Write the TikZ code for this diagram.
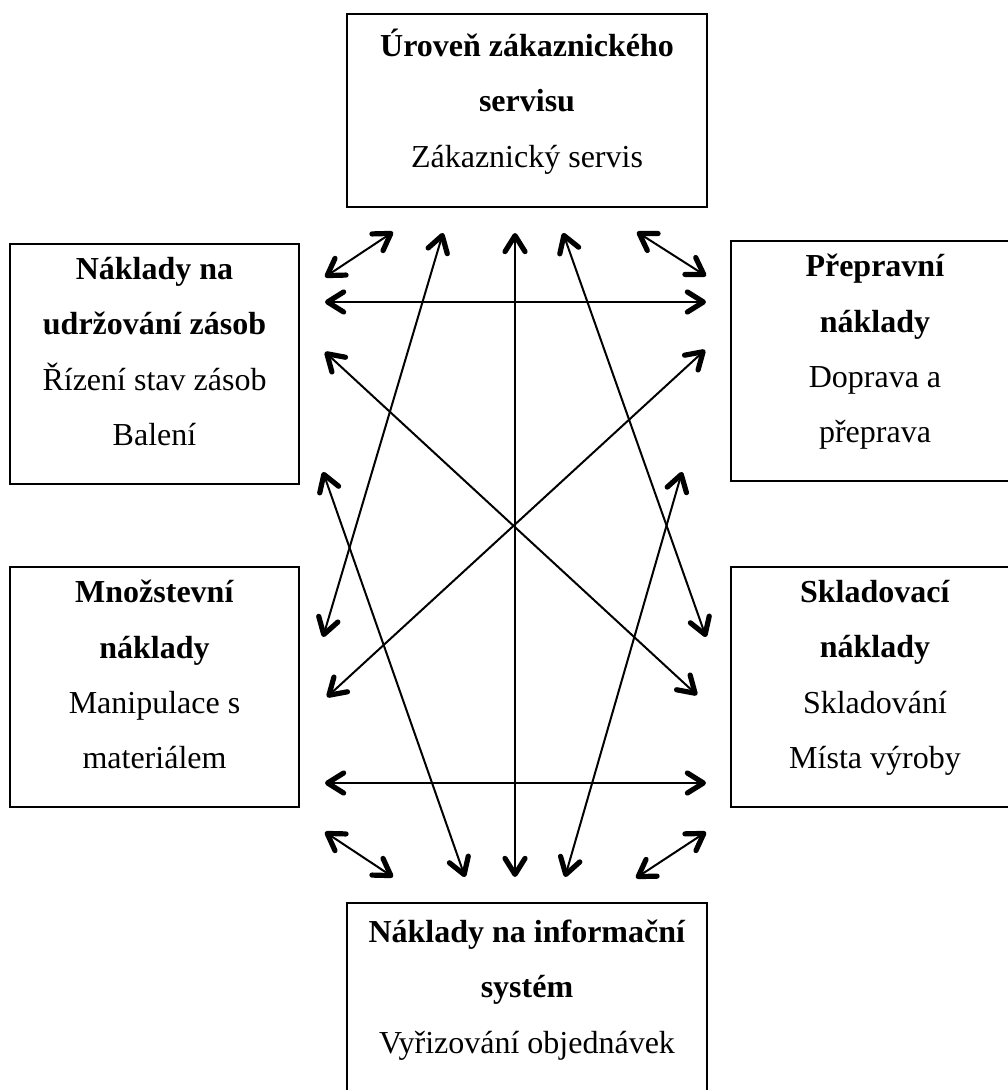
\documentclass[tikz,border=0pt]{standalone}
\usepackage{fontspec}
\setmainfont{Liberation Serif}
\usetikzlibrary{arrows.meta}

\begin{document}
\begin{tikzpicture}[x=0.5pt,y=-0.5pt,
        >={Straight Barb[length=8pt,width=10pt,line width=2.6pt,round]},
        box/.style={draw,line width=1pt,align=center,inner sep=0pt,
            font=\fontsize{16}{27.7}\selectfont,
            execute at begin node={\rule{0pt}{17.5pt}},
            execute at end node={\rule[-12.5pt]{0pt}{12.5pt}}},
        sipka/.style={<->,line width=1pt}]
        \useasboundingbox (0,0) rectangle (1007,1090);

        % rámečky s náklady
        \node[box,minimum width=180pt,minimum height=96.5pt] (servis) at (527,110.5)
            {\textbf{Úroveň zákaznického}\\\textbf{servisu}\\Zákaznický servis};
        \node[box,minimum width=144.5pt,minimum height=120pt] (zasoby) at (154.5,364)
            {\textbf{Náklady na}\\\textbf{udržování zásob}\\Řízení stav zásob\\Balení};
        \node[box,minimum width=144.5pt,minimum height=120pt] (preprava) at (875,361)
            {\textbf{Přepravní}\\\textbf{náklady}\\Doprava a\\přeprava};
        \node[box,minimum width=144.5pt,minimum height=120pt] (mnozstvi) at (154.5,687)
            {\textbf{Množstevní}\\\textbf{náklady}\\Manipulace s\\materiálem};
        \node[box,minimum width=144.5pt,minimum height=120pt] (sklad) at (875,687)
            {\textbf{Skladovací}\\\textbf{náklady}\\Skladování\\Místa výroby};
        \node[box,minimum width=180pt,minimum height=96pt] (info) at (527,999)
            {\textbf{Náklady na informační}\\\textbf{systém}\\Vyřizování objednávek};

        % konce šipek
        \coordinate (a1) at (325,277); \coordinate (b1) at (393,232);
        \coordinate (a2) at (325,302); \coordinate (b2) at (706,302);
        \coordinate (a3) at (443,233); \coordinate (b3) at (323,637);
        \coordinate (a4) at (515,233); \coordinate (b4) at (515,877);
        \coordinate (a5) at (563,233); \coordinate (b5) at (706,637);
        \coordinate (a6) at (637,232); \coordinate (b6) at (706,276);
        \coordinate (a7) at (325,352); \coordinate (b7) at (697,695);
        \coordinate (a8) at (705,350); \coordinate (b8) at (327,697);
        \coordinate (a9) at (323,472); \coordinate (b9) at (465,877);
        \coordinate (a10) at (682,472); \coordinate (b10) at (565,877);
        \coordinate (a11) at (325,783); \coordinate (b11) at (706,783);
        \coordinate (a12) at (325,832); \coordinate (b12) at (393,877);
        \coordinate (a13) at (636,878); \coordinate (b13) at (706,832);

        % obousměrné vazby
        \foreach \i in {1,...,13}
            \draw[sipka] (a\i) -- (b\i);
    \end{tikzpicture}
\end{document}
